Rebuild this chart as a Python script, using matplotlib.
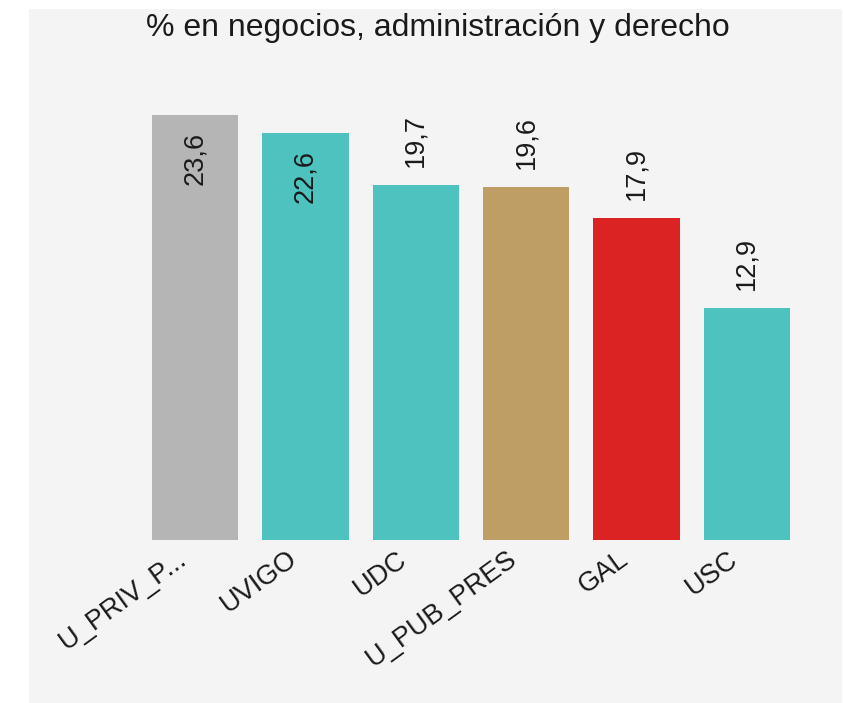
import matplotlib.pyplot as plt
import matplotlib.patches as mpatches
from matplotlib.transforms import ScaledTranslation

plt.rcParams['font.family'] = ['Liberation Sans', 'DejaVu Sans']

categories = ['U_PRIV_P...', 'UVIGO', 'UDC', 'U_PUB_PRES', 'GAL', 'USC']
values = [23.6, 22.6, 19.7, 19.6, 17.9, 12.9]
colors = ['#b5b5b5', '#4ec2be', '#4ec2be', '#bf9e66', '#dc2323', '#4ec2be']
title = '% en negocios, administración y derecho'

W, H = 843, 703
fig = plt.figure(figsize=(W / 100, H / 100), dpi=100)
fig.patch.set_facecolor('white')

# gray panel behind everything
bg = fig.add_axes([0, 0, 1, 1], zorder=-1)
bg.set_xlim(0, W)
bg.set_ylim(H, 0)
bg.axis('off')
bg.add_patch(mpatches.Rectangle((29, 9), 842 - 29, H - 9,
                                facecolor='#f4f4f4', edgecolor='none'))

# axes placed in pixels: x from 140 to 802, baseline at y=540
ax = fig.add_axes([140 / W, 1 - 540 / H, (802 - 140) / W, 540 / H])
ax.set_facecolor('none')
x = range(len(categories))
ax.bar(x, values, width=0.78, color=colors, zorder=2)
ax.set_xlim(-0.5, 5.5)
ax.set_ylim(0, 30)

for i, v in enumerate(values):
    lbl = f'{v:.1f}'.replace('.', ',')
    if v > 21:
        ax.annotate(lbl, (i, v), xytext=(0, -12), textcoords='offset points',
                    rotation=90, ha='center', va='top', fontsize=19.5,
                    color='#1a1a1a')
    else:
        ax.annotate(lbl, (i, v), xytext=(0, 13), textcoords='offset points',
                    rotation=90, ha='center', va='bottom', fontsize=19.5,
                    color='#1a1a1a')

ax.set_xticks(list(x))
ax.set_xticklabels(categories, rotation=36, ha='right', va='top',
                   rotation_mode='anchor', fontsize=19.5, color='#1a1a1a')
ax.tick_params(axis='x', length=0, pad=10)
shift = ScaledTranslation(-19 / 100, 8 / 100, fig.dpi_scale_trans)
for t in ax.get_xticklabels():
    t.set_transform(t.get_transform() + shift)
ax.set_yticks([])
for s in ax.spines.values():
    s.set_visible(False)

fig.text(438 / W, 1 - 28 / H, title, ha='center', va='center',
         fontsize=23, color='#1a1a1a')

fig.savefig('out.png', dpi=100)
